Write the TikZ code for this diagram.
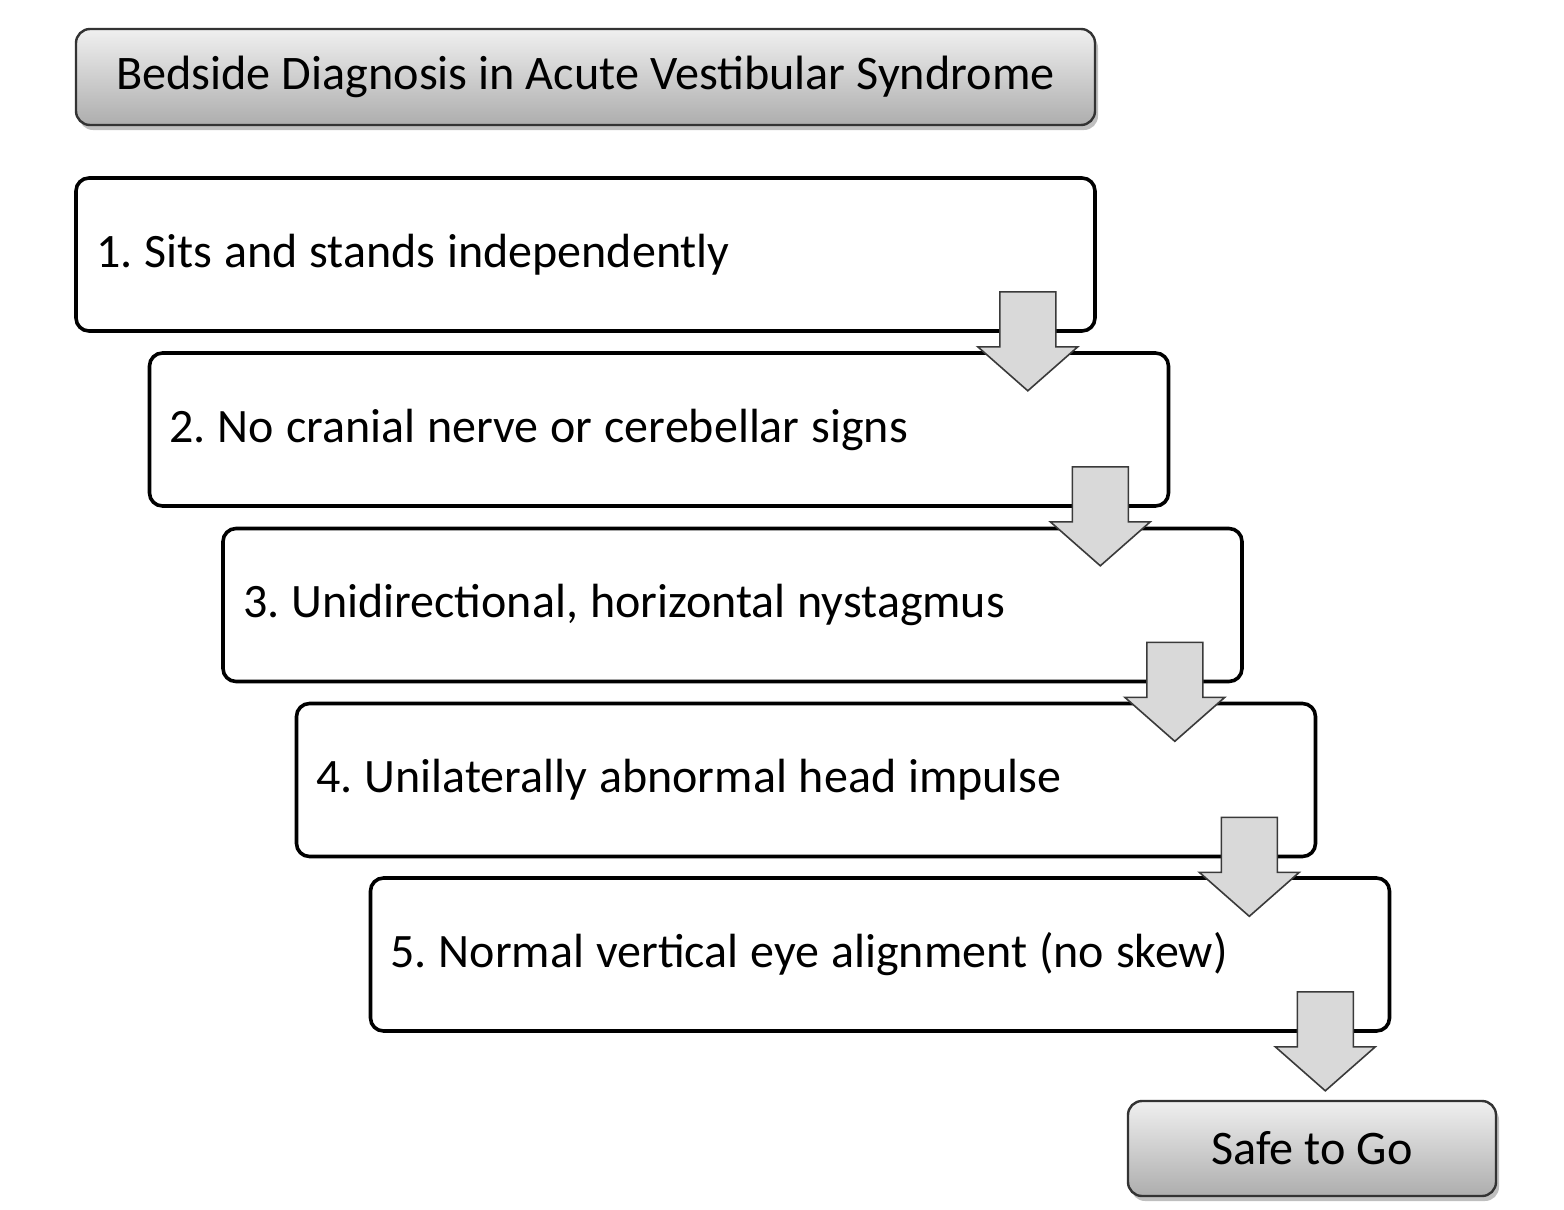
\documentclass[tikz,border=0pt]{standalone}
\usepackage{fontspec}
\setmainfont{Carlito}[WordSpace=1.1]
\newfontfamily\headfont{Carlito}
\usetikzlibrary{calc,shadows}
\definecolor{arrowfill}{HTML}{D9D9D9}
\definecolor{arrowline}{HTML}{3A3A3A}
\begin{document}
\frenchspacing
\begin{tikzpicture}[x=1pt,y=-1pt,
  stepbox/.style={draw=black, line width=3.6pt, rounded corners=13pt, fill=white,
    minimum width=1019pt, minimum height=153pt, text width=979pt, inner xsep=20pt,
    align=flush left, font=\fontsize{48}{56}\selectfont},
  headbox/.style={draw=black!80, line width=2.4pt, rounded corners=14pt,
    top color=black!6, bottom color=black!32,
    drop shadow={shadow xshift=3pt, shadow yshift=-5pt, opacity=0.25, fill=black},
    font=\headfont\fontsize{48.2}{56}\selectfont},
  blockarrow/.style={fill=arrowfill, draw=arrowline, line width=1.6pt, line join=miter}
]
\useasboundingbox (0,0) rectangle (1564,1210);
\node[headbox, minimum width=1019pt, minimum height=96pt] (title) at (585.5,77)
  {Bedside Diagnosis in Acute Vestibular Syndrome};
\node[stepbox] (b1) at (585.5,254.5) {1. Sits and stands independently};
\node[stepbox] (b2) at (659,429.5) {2. No cranial nerve or cerebellar signs};
\node[stepbox] (b3) at (732.5,605) {3. Unidirectional, horizontal nystagmus};
\node[stepbox] (b4) at (806,780) {4. Unilaterally abnormal head impulse};
\node[stepbox] (b5) at (880,954.5) {5. Normal vertical eye alignment (no skew)};
\node[headbox, minimum width=368pt, minimum height=95pt] (safe) at (1312,1148.5) {Safe to Go};
\foreach \a/\dx in {b1/69,b2/70,b3/69,b4/68,b5/66} {
  \coordinate (t) at ($(\a.south east)+(-\dx,0)$);
  \filldraw[blockarrow] ($(t)+(-28,-41)$) -- ($(t)+(28,-41)$) -- ($(t)+(28,14)$)
    -- ($(t)+(50,14)$) -- ($(t)+(0,58)$) -- ($(t)+(-50,14)$) -- ($(t)+(-28,14)$) -- cycle;
}
\end{tikzpicture}
\end{document}
